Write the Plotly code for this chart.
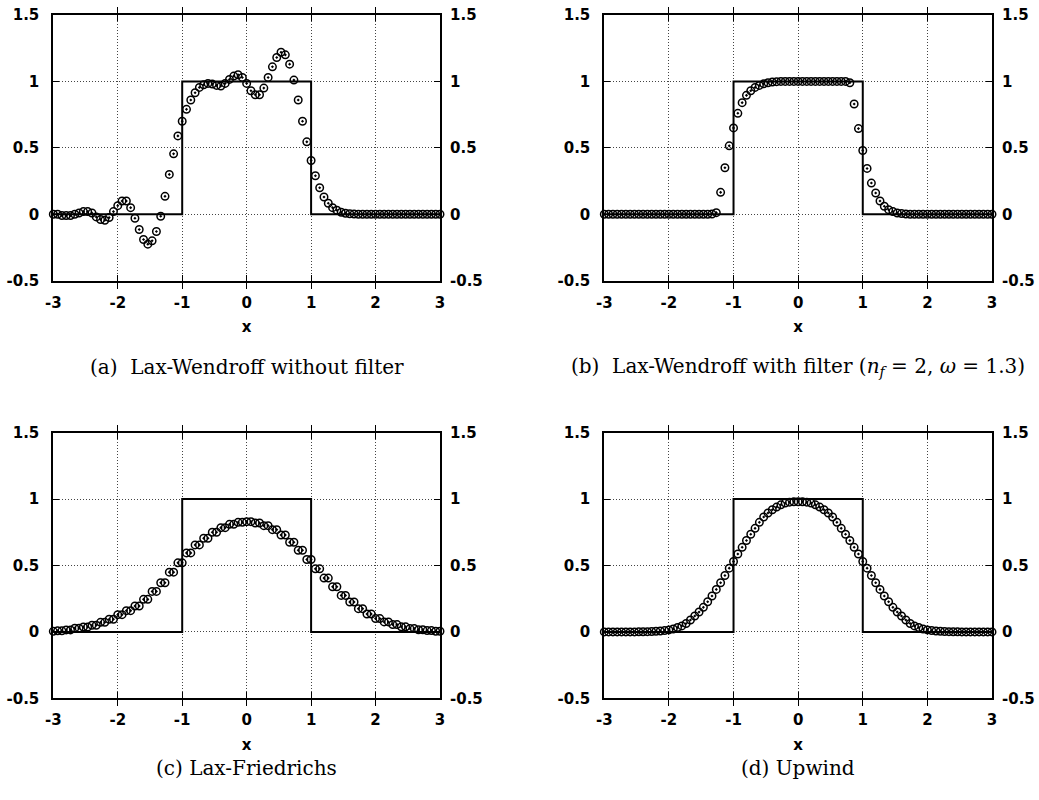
import plotly.graph_objects as go

# ---------------- data ----------------
x_grid = [-3.0, -2.9333, -2.8667, -2.8, -2.7333, -2.6667, -2.6, -2.5333, -2.4667, -2.4,
          -2.3333, -2.2667, -2.2, -2.1333, -2.0667, -2.0, -1.9333, -1.8667, -1.8, -1.7333,
          -1.6667, -1.6, -1.5333, -1.4667, -1.4, -1.3333, -1.2667, -1.2, -1.1333, -1.0667,
          -1.0, -0.9333, -0.8667, -0.8, -0.7333, -0.6667, -0.6, -0.5333, -0.4667, -0.4,
          -0.3333, -0.2667, -0.2, -0.1333, -0.0667, 0.0, 0.0667, 0.1333, 0.2, 0.2667,
          0.3333, 0.4, 0.4667, 0.5333, 0.6, 0.6667, 0.7333, 0.8, 0.8667, 0.9333,
          1.0, 1.0667, 1.1333, 1.2, 1.2667, 1.3333, 1.4, 1.4667, 1.5333, 1.6,
          1.6667, 1.7333, 1.8, 1.8667, 1.9333, 2.0, 2.0667, 2.1333, 2.2, 2.2667,
          2.3333, 2.4, 2.4667, 2.5333, 2.6, 2.6667, 2.7333, 2.8, 2.8667, 2.9333, 3.0]

exact_x = [-3, -1, -1, 1, 1, 3]
exact_y = [0, 0, 1, 1, 0, 0]

lax_wendroff = [0.0, 0.0, -0.01, -0.01, -0.01, 0.0, 0.01, 0.02, 0.02, 0.01,
                -0.02, -0.04, -0.045, -0.025, 0.02, 0.065, 0.10, 0.10, 0.05, -0.03,
                -0.115, -0.19, -0.225, -0.20, -0.13, -0.015, 0.135, 0.30, 0.455, 0.59,
                0.70, 0.79, 0.86, 0.915, 0.955, 0.975, 0.985, 0.98, 0.97, 0.965,
                0.985, 1.015, 1.04, 1.05, 1.03, 0.985, 0.93, 0.90, 0.90, 0.95,
                1.03, 1.11, 1.18, 1.22, 1.20, 1.13, 1.01, 0.86, 0.70, 0.545,
                0.405, 0.29, 0.20, 0.13, 0.083, 0.05, 0.03, 0.015, 0.008, 0.004,
                0.002, 0.0, 0.0, 0.0, 0.0, 0.0, 0.0, 0.0, 0.0, 0.0,
                0.0, 0.0, 0.0, 0.0, 0.0, 0.0, 0.0, 0.0, 0.0, 0.0, 0.0]

lax_wendroff_filter = [0.0, 0.0, 0.0, 0.0, 0.0, 0.0, 0.0, 0.0, 0.0, 0.0,
                       0.0, 0.0, 0.0, 0.0, 0.0, 0.0, 0.0, 0.0, 0.0, 0.0,
                       0.0, 0.0, 0.0, 0.0, 0.0, 0.002, 0.012, 0.165, 0.35, 0.515,
                       0.65, 0.76, 0.84, 0.895, 0.93, 0.955, 0.97, 0.982, 0.99, 0.995,
                       0.998, 1.0, 1.0, 1.0, 1.0, 1.0, 1.0, 1.0, 1.0, 1.0,
                       1.0, 1.0, 1.0, 1.0, 1.0, 1.0, 1.0, 0.99, 0.83, 0.645,
                       0.48, 0.345, 0.235, 0.16, 0.10, 0.06, 0.035, 0.02, 0.01, 0.005,
                       0.002, 0.0, 0.0, 0.0, 0.0, 0.0, 0.0, 0.0, 0.0, 0.0,
                       0.0, 0.0, 0.0, 0.0, 0.0, 0.0, 0.0, 0.0, 0.0, 0.0, 0.0]

lax_friedrichs = [0.004, 0.008, 0.008, 0.015, 0.015, 0.028, 0.028, 0.037, 0.037, 0.05,
                  0.05, 0.072, 0.072, 0.095, 0.095, 0.13, 0.13, 0.16, 0.16, 0.195,
                  0.195, 0.245, 0.245, 0.305, 0.305, 0.37, 0.37, 0.45, 0.45, 0.52,
                  0.52, 0.595, 0.595, 0.655, 0.655, 0.705, 0.705, 0.75, 0.75, 0.785,
                  0.785, 0.81, 0.81, 0.825, 0.825, 0.83, 0.83, 0.82, 0.82, 0.80,
                  0.80, 0.77, 0.77, 0.73, 0.73, 0.675, 0.675, 0.615, 0.615, 0.545,
                  0.545, 0.475, 0.475, 0.405, 0.405, 0.34, 0.34, 0.275, 0.275, 0.225,
                  0.225, 0.175, 0.175, 0.135, 0.135, 0.10, 0.10, 0.075, 0.075, 0.055,
                  0.055, 0.038, 0.038, 0.025, 0.025, 0.016, 0.016, 0.01, 0.01, 0.005, 0.005]

upwind = [0.0, 0.0, 0.0, 0.0, 0.0, 0.0, 0.0, 0.0, 0.001, 0.001,
          0.002, 0.003, 0.005, 0.007, 0.01, 0.015, 0.022, 0.033, 0.045, 0.063,
          0.09, 0.12, 0.15, 0.185, 0.227, 0.27, 0.32, 0.37, 0.425, 0.48,
          0.53, 0.587, 0.637, 0.688, 0.735, 0.78, 0.825, 0.865, 0.895, 0.92,
          0.94, 0.957, 0.97, 0.977, 0.98, 0.98, 0.98, 0.977, 0.97, 0.957,
          0.94, 0.92, 0.895, 0.865, 0.825, 0.78, 0.735, 0.688, 0.637, 0.587,
          0.53, 0.48, 0.425, 0.37, 0.32, 0.27, 0.227, 0.185, 0.15, 0.12,
          0.09, 0.063, 0.045, 0.033, 0.022, 0.015, 0.01, 0.007, 0.005, 0.003,
          0.002, 0.001, 0.001, 0.0, 0.0, 0.0, 0.0, 0.0, 0.0, 0.0, 0.0]

x_ticks = [-3, -2, -1, 0, 1, 2, 3]
x_ticktext = ["-3", "-2", "-1", "0", "1", "2", "3"]
y_ticks = [-0.5, 0, 0.5, 1, 1.5]
y_ticktext = ["-0.5", "0", "0.5", "1", "1.5"]

panels = [
    (lax_wendroff, "(a)\u00a0\u00a0Lax-Wendroff without filter"),
    (lax_wendroff_filter, "(b)\u00a0\u00a0Lax-Wendroff with filter (<i>n</i><sub><i>f</i></sub> = 2, <i>ω</i> = 1.3)"),
    (lax_friedrichs, "(c) Lax-Friedrichs"),
    (upwind, "(d) Upwind"),
]

# ---------------- layout geometry ----------------
W, H = 1039, 800
x_doms = [(53.3 / W, 440.0 / W), (604.3 / W, 992.0 / W)]
y_doms = [(1 - 280.7 / H, 1 - 15.0 / H), (1 - 698.3 / H, 1 - 432.7 / H)]
caption_y = [1 - 367 / H, 1 - 768 / H]

tick_font = dict(family="DejaVu Sans", size=15, color="black", weight="bold")
grid_style = dict(showgrid=True, gridcolor="#444", gridwidth=1, griddash="1px,2px")

fig = go.Figure()
layout = dict(
    width=W, height=H,
    margin=dict(l=0, r=0, t=0, b=0, autoexpand=False),
    paper_bgcolor="white", plot_bgcolor="white",
    showlegend=False,
    annotations=[],
)

for i, (vals, caption) in enumerate(panels):
    row, col = divmod(i, 2)
    n = i + 1
    nr = i + 5
    xs = "" if n == 1 else str(n)
    xa, ya, yr = f"x{xs}", f"y{xs}", f"y{nr}"

    fig.add_trace(go.Scatter(x=exact_x, y=exact_y, mode="lines",
                             line=dict(color="black", width=2),
                             xaxis=xa, yaxis=ya, hoverinfo="skip"))
    fig.add_trace(go.Scatter(x=x_grid, y=vals, mode="markers",
                             marker=dict(symbol="circle-open-dot", size=7.5, color="black",
                                         line=dict(width=1.5, color="black")),
                             cliponaxis=False, xaxis=xa, yaxis=ya))
    # invisible trace for mirrored right axis
    fig.add_trace(go.Scatter(x=[0], y=[0], mode="markers", opacity=0,
                             xaxis=xa, yaxis=yr, hoverinfo="skip"))

    layout[f"xaxis{xs}"] = dict(
        domain=list(x_doms[col]), anchor=ya, range=[-3, 3],
        tickmode="array", tickvals=x_ticks, ticktext=x_ticktext,
        ticks="inside", ticklen=6, tickwidth=1, tickcolor="black",
        showline=True, linewidth=2, linecolor="black", mirror="allticks",
        zeroline=False, tickfont=tick_font, ticklabelstandoff=7,
        automargin=False,
        title=dict(text="x", font=dict(family="DejaVu Sans", size=15, color="black", weight="bold"),
                   standoff=11),
        fixedrange=True, **grid_style,
    )
    layout[f"yaxis{xs}"] = dict(
        domain=list(y_doms[row]), anchor=xa, range=[-0.5, 1.5],
        tickmode="array", tickvals=y_ticks, ticktext=y_ticktext,
        ticks="inside", ticklen=6, tickwidth=1, tickcolor="black",
        showline=True, linewidth=2, linecolor="black", mirror="allticks",
        zeroline=False, tickfont=tick_font, ticklabelstandoff=9,
        automargin=False, fixedrange=True, **grid_style,
    )
    layout[f"yaxis{nr}"] = dict(
        overlaying=ya, anchor=xa, side="right", range=[-0.5, 1.5],
        tickmode="array", tickvals=y_ticks, ticktext=y_ticktext,
        ticks="", showline=False, showgrid=False, zeroline=False,
        tickfont=tick_font, ticklabelstandoff=9, automargin=False, fixedrange=True,
    )
    layout["annotations"].append(dict(
        text=caption, xref="paper", yref="paper",
        x=(x_doms[col][0] + x_doms[col][1]) / 2, y=caption_y[row],
        xanchor="center", yanchor="middle", showarrow=False,
        font=dict(family="DejaVu Serif", size=20, color="black"),
    ))

fig.update_layout(**layout)
fig.write_html("out.html")
